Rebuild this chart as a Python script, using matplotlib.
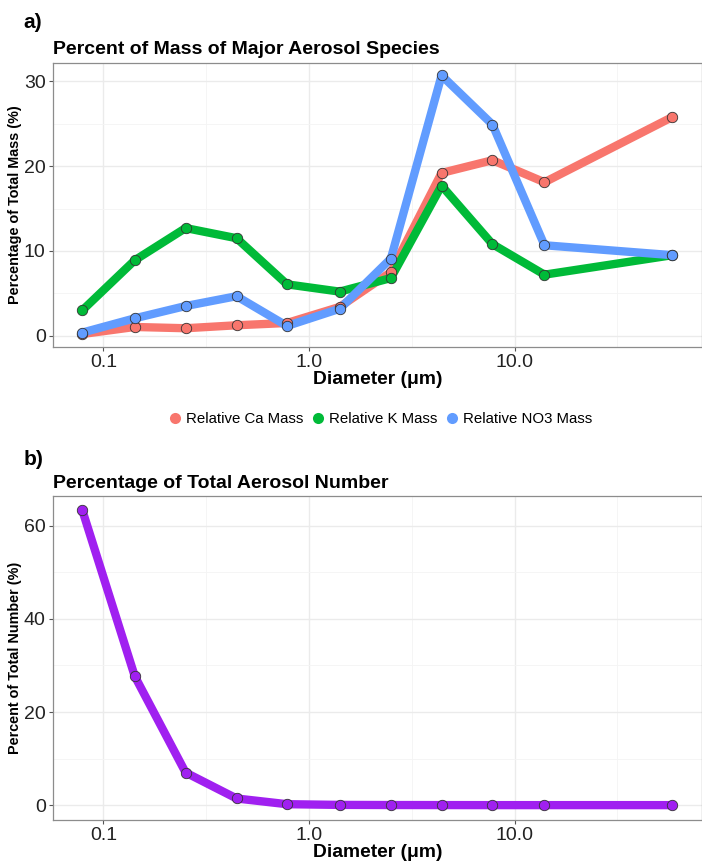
import numpy as np
import matplotlib.pyplot as plt
from matplotlib.ticker import FixedLocator, NullFormatter

# diameters (um) of the size bins
diam = [0.079, 0.142, 0.251, 0.444, 0.781, 1.41, 2.50, 4.41, 7.80, 13.96, 58.5]

ca_mass = [0.2, 1.03, 0.88, 1.23, 1.5, 3.4, 7.5, 19.2, 20.7, 18.1, 25.8]
k_mass = [3.0, 8.9, 12.7, 11.5, 6.06, 5.2, 6.8, 17.7, 10.8, 7.2, 9.5]
no3_mass = [0.37, 2.05, 3.5, 4.66, 1.15, 3.18, 9.1, 30.7, 24.9, 10.67, 9.5]
number_pct = [63.3, 27.7, 7.0, 1.43, 0.2, 0.05, 0.02, 0.01, 0.0, 0.0, 0.0]

series_names = ['Relative Ca Mass', 'Relative K Mass', 'Relative NO3 Mass']
series_cols = ['#F8766D', '#00BA38', '#619CFF']
purple = '#A020F0'

plt.rcParams['font.family'] = ['Liberation Sans', 'DejaVu Sans']

fig = plt.figure(figsize=(7.02, 8.64), dpi=100)
ax1 = fig.add_axes([0.075, 0.5987, 0.925, 0.3287])
ax2 = fig.add_axes([0.075, 0.0509, 0.925, 0.375])

def style(ax, ymaj, ymin):
    ax.set_xscale('log')
    ax.set_xlim(10**-1.247, 10**1.911)
    ax.xaxis.set_major_locator(FixedLocator([0.1, 1, 10]))
    ax.xaxis.set_minor_locator(FixedLocator([10**-0.5, 10**0.5, 10**1.5]))
    ax.set_xticklabels(['0.1', '1.0', '10.0'])
    ax.xaxis.set_minor_formatter(NullFormatter())
    ax.yaxis.set_major_locator(FixedLocator(ymaj))
    ax.yaxis.set_minor_locator(FixedLocator(ymin))
    ax.grid(which='major', color='#ebebeb', lw=1.0, zorder=0)
    ax.grid(which='minor', color='#f4f4f4', lw=0.6, zorder=0)
    ax.set_axisbelow(True)
    for sp in ax.spines.values():
        sp.set_color('#8c8c8c')
        sp.set_linewidth(0.9)
    ax.tick_params(which='major', length=3, color='#555555', labelsize=14, labelcolor='#222222', pad=2)
    ax.tick_params(which='minor', length=0)
    ax.set_xlabel('Diameter (\u03bcm)', fontsize=13.9, fontweight='bold', labelpad=0)

# panel a
for vals, c in zip([ca_mass, k_mass, no3_mass], series_cols):
    ax1.plot(diam, vals, color=c, lw=6, solid_capstyle='butt', zorder=2)
for vals, c, nm in zip([ca_mass, k_mass, no3_mass], series_cols, series_names):
    ax1.plot(diam, vals, 'o', ms=7.5, mfc=c, mec='#333333', mew=0.6, zorder=3)
style(ax1, [0, 10, 20, 30], [5, 15, 25])
ax1.set_ylim(-1.3, 32.2)
ax1.set_ylabel('Percentage of Total Mass (%)', fontsize=10.4, fontweight='bold')
ax1.yaxis.set_label_coords(-0.047, 0.5)
ax1.set_title('Percent of Mass of Major Aerosol Species', loc='left', fontsize=14,
              fontweight='bold', pad=6)
fig.text(0.034, 0.974, 'a)', fontsize=15, fontweight='bold', va='center')

handles = [plt.Line2D([], [], ls='none', marker='o', ms=8, mfc=c, mec='none') for c in series_cols]
fig.legend(handles, series_names, loc='center', bbox_to_anchor=(0.54, 0.515), ncol=3,
           frameon=False, fontsize=10.8, handletextpad=0.1, columnspacing=0.4, handlelength=1.2)

# panel b
ax2.plot(diam, number_pct, color=purple, lw=6, solid_capstyle='butt', zorder=2)
ax2.plot(diam, number_pct, 'o', ms=7.5, mfc=purple, mec='#333333', mew=0.6, zorder=3)
style(ax2, [0, 20, 40, 60], [10, 30, 50])
ax2.set_ylim(-3.2, 66.4)
ax2.set_ylabel('Percent of Total Number (%)', fontsize=10.4, fontweight='bold')
ax2.yaxis.set_label_coords(-0.047, 0.5)
ax2.set_title('Percentage of Total Aerosol Number', loc='left', fontsize=14,
              fontweight='bold', pad=6)
fig.text(0.034, 0.468, 'b)', fontsize=15, fontweight='bold', va='center')

fig.savefig('out.png', dpi=100)
